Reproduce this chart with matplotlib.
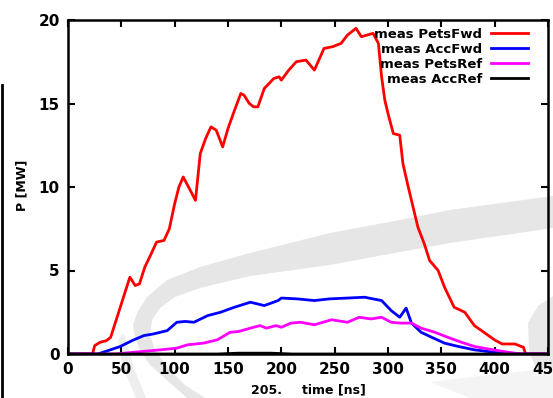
import matplotlib
matplotlib.use("Agg")
import matplotlib.pyplot as plt
from matplotlib.patches import Polygon
from matplotlib.lines import Line2D

# ---- data ----
t_pets_fwd = [0, 23, 25, 30, 36, 40, 45, 50, 55, 58, 63, 67, 72, 78, 83, 90, 95, 100, 104, 108,
              113, 119.5, 124, 129, 134, 139, 145, 150, 155, 162, 165, 170, 174, 178, 184, 193,
              198, 200, 207, 214, 223, 231, 240, 248, 256, 262, 270, 275, 286, 291, 294, 297,
              300, 305, 311, 314, 319, 322, 328, 334, 339, 347, 353, 362, 372, 381, 391, 400,
              407, 419, 427, 429, 450]
p_pets_fwd = [0, 0, 0.5, 0.7, 0.8, 1.0, 2.0, 3.0, 4.0, 4.6, 4.1, 4.2, 5.2, 6.0, 6.7, 6.8, 7.5, 9.0,
              10.0, 10.6, 10.0, 9.2, 12.0, 12.9, 13.6, 13.4, 12.4, 13.5, 14.4, 15.6, 15.5, 15.0,
              14.8, 14.8, 15.9, 16.5, 16.6, 16.4, 17.0, 17.5, 17.6, 17.0, 18.3, 18.4, 18.6, 19.1,
              19.5, 19.0, 19.2, 18.6, 16.6, 15.2, 14.4, 13.2, 13.1, 11.4, 10.0, 9.2, 7.6, 6.6,
              5.6, 5.0, 4.0, 2.8, 2.5, 1.7, 1.25, 0.84, 0.6, 0.6, 0.4, 0.0, 0.0]

t_acc_fwd = [0, 28, 35, 49, 60, 71, 80, 93, 102, 110, 118, 131, 143, 156, 171, 184, 197, 200,
             215, 231, 245, 262, 278, 294, 303, 311, 317, 322, 331, 341, 353, 366, 381, 400,
             425, 450]
p_acc_fwd = [0, 0, 0.15, 0.45, 0.8, 1.1, 1.2, 1.4, 1.9, 1.95, 1.9, 2.3, 2.5, 2.8, 3.1, 2.9, 3.2,
             3.35, 3.3, 3.2, 3.3, 3.35, 3.4, 3.2, 2.6, 2.2, 2.75, 1.85, 1.3, 1.0, 0.65, 0.45,
             0.25, 0.1, 0.0, 0.0]

t_pets_ref = [0, 45, 61, 87, 102, 112, 127, 140, 152, 160, 174, 180, 186, 195, 200, 209, 218,
              231, 247, 262, 273, 284, 294, 303, 312, 322, 331, 344, 356, 369, 381, 394, 413,
              425, 450]
p_pets_ref = [0, 0, 0.1, 0.25, 0.35, 0.55, 0.65, 0.85, 1.3, 1.35, 1.6, 1.7, 1.55, 1.7, 1.6,
              1.85, 1.9, 1.75, 2.05, 1.9, 2.2, 2.1, 2.2, 1.9, 1.85, 1.85, 1.55, 1.3, 1.0, 0.7,
              0.45, 0.3, 0.1, 0.0, 0.0]

t_acc_ref = [0, 140, 160, 190, 210, 450]
p_acc_ref = [0, 0, 0.05, 0.05, 0, 0]

labels = ["meas PetsFwd", "meas AccFwd", "meas PetsRef", "meas AccRef"]
colors = ["#ff0000", "#0000ff", "#ff00ff", "#000000"]
xticks = [0, 50, 100, 150, 200, 250, 300, 350, 400, 450]
yticks = [0, 5, 10, 15, 20]

W, H = 553, 398
fig = plt.figure(figsize=(W / 100, H / 100), dpi=100)
fig.patch.set_facecolor("white")

def px(points):
    return [(x / W, 1 - y / H) for x, y in points]

# background watermark swoosh
crescent = [(553, 196), (450, 210), (400, 220), (330, 233), (250, 253), (200, 267), (167, 280),
            (147, 297), (137, 313), (133, 325), (135, 337), (140, 350), (150, 365), (167, 380),
            (187, 398), (205, 398), (185, 385), (168, 368), (155, 350), (150, 335), (152, 320),
            (160, 308), (175, 297), (200, 288), (250, 276), (330, 265), (400, 252), (450, 243),
            (553, 228)]
wedge = [(118, 340), (124, 333), (134, 368), (146, 398), (136, 398), (122, 365)]
blob = [(553, 296), (538, 306), (528, 323), (529, 350), (537, 372), (548, 390), (553, 398)]
bottom = [(430, 382), (490, 375), (553, 368), (553, 398), (470, 398)]
for pts, col in ((crescent, "#e6e6e6"), (wedge, "#eeeeee"), (blob, "#e8e8e8"),
                 (bottom, "#f4f4f4")):
    fig.patches.append(Polygon(px(pts), closed=True, transform=fig.transFigure,
                               facecolor=col, edgecolor="none", zorder=0))

# left stray vertical line
fig.add_artist(Line2D([2 / W, 2 / W], [0, 1 - 85 / H], transform=fig.transFigure,
                      color="black", linewidth=2))

ax = fig.add_axes([68 / W, 44 / H, 480 / W, 334 / H])
ax.set_zorder(2)
ax.set_facecolor("none")

series = [(t_pets_fwd, p_pets_fwd), (t_acc_fwd, p_acc_fwd),
          (t_pets_ref, p_pets_ref), (t_acc_ref, p_acc_ref)]
for (t, p), lab, c in zip(series, labels, colors):
    ax.plot(t, p, color=c, linewidth=2.0, label=lab)

ax.set_xlim(0, 450)
ax.set_ylim(0, 20)
ax.set_xticks(xticks)
ax.set_yticks(yticks)
ax.tick_params(direction="in", top=True, right=True, length=5, width=1.5,
               labelsize=11, pad=6)
for lbl in ax.get_xticklabels() + ax.get_yticklabels():
    lbl.set_fontweight("bold")
for s in ax.spines.values():
    s.set_linewidth(1.8)

ax.set_ylabel("P [MW]", fontsize=9, fontweight="bold")
ax.yaxis.set_label_coords(-0.083, 0.506)
ax.set_xlabel("time [ns]", fontsize=9, fontweight="bold")
ax.xaxis.set_label_coords(0.554, -0.088)
fig.text(267 / W, 1 - 390 / H, "205.", fontsize=9, fontweight="bold", ha="center", va="center")

leg = ax.legend(loc="upper right", bbox_to_anchor=(0.975, 1.0), frameon=False,
                markerfirst=False, prop={"size": 9.5, "weight": "bold"}, handlelength=2.8,
                labelspacing=0.15, borderaxespad=0.2, handletextpad=0.7)
for txt in leg.get_texts():
    txt.set_ha("right")

fig.savefig("out.png", dpi=100)
